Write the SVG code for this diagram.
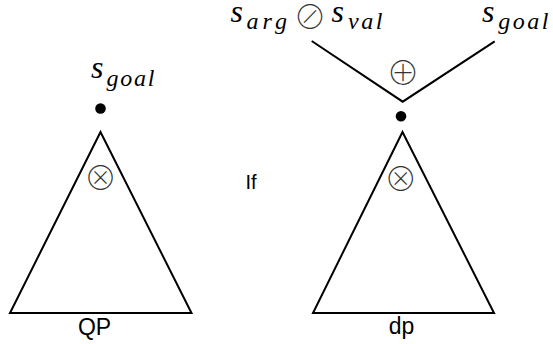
<svg xmlns="http://www.w3.org/2000/svg" width="553" height="344" viewBox="0 0 553 344">
<style>
.ln{fill:none;stroke:#000;stroke-width:2;stroke-linejoin:miter}
.m{font-family:"Liberation Serif","DejaVu Serif",serif;font-style:italic;fill:#000}
.s{font-size:32px}
.sub{font-size:24px}
.op{font-family:"Noto Sans CJK JP","DejaVu Sans",sans-serif;font-weight:100;font-size:33px;fill:#333;text-anchor:middle}
.lb{font-family:"Liberation Sans",Arial,sans-serif;fill:#000}
</style>
<rect width="553" height="344" fill="#fff"/>
<g id="tree-qp">
  <polygon class="ln" points="100.5,132 10,313 191.5,313"/>
  <circle cx="100.5" cy="108.5" r="5.3" fill="#000"/>
  <text class="op" x="100.5" y="189.5">⊗</text>
  <text class="m s" x="91" y="78">s</text>
  <text class="m sub" x="106.5" y="86" textLength="48">goal</text>
  <text class="lb" x="94.5" y="335" font-size="23" text-anchor="middle">QP</text>
</g>
<g id="if-label">
  <text class="lb" x="251" y="189" font-size="20" text-anchor="middle">If</text>
</g>
<g id="tree-dp">
  <polygon class="ln" points="402.5,132 313,313 494,313"/>
  <circle cx="401" cy="116.3" r="5.3" fill="#000"/>
  <text class="op" x="400.7" y="190.5">⊗</text>
  <text class="lb" x="401.5" y="334" font-size="23" text-anchor="middle">dp</text>
</g>
<g id="merge">
  <text class="op" x="403" y="85">⊕</text>
</g>
<g id="input-arg-val">
  <text class="m s" x="230.5" y="21.5">s</text>
  <text class="m sub" x="246.5" y="28.5" textLength="40.5">arg</text>
  <text class="op" x="310" y="29">⊘</text>
  <text class="m s" x="331.5" y="21.5">s</text>
  <text class="m sub" x="348" y="28.5" textLength="34.5">val</text>
</g>
<g id="input-goal">
  <text class="m s" x="482" y="22">s</text>
  <text class="m sub" x="498.3" y="29" textLength="50">goal</text>
</g>
<g id="connectors">
  <polyline class="ln" points="311.7,41 402.7,101.7 494.7,41.3"/>
</g>
</svg>
